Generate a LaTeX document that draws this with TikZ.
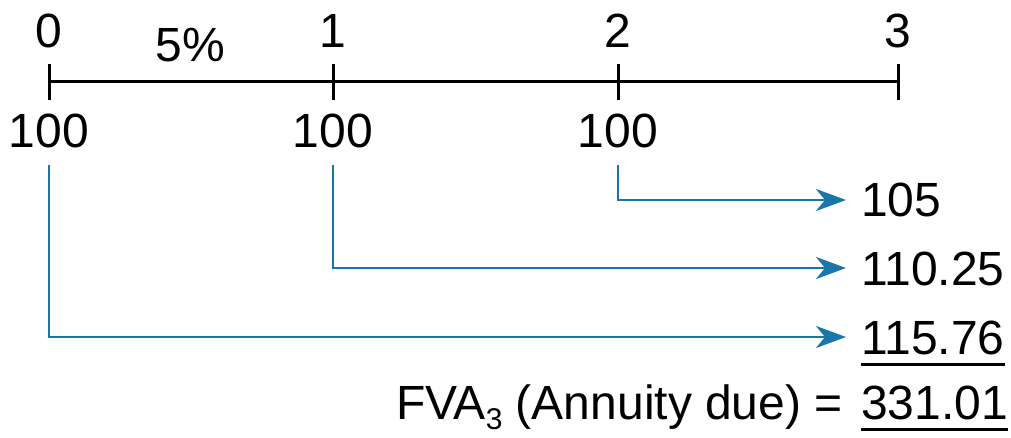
\documentclass[tikz,border=0pt]{standalone}
\usepackage{fontspec}
\setmainfont{Liberation Sans}
\usetikzlibrary{arrows.meta}
\definecolor{flowblue}{RGB}{24,118,170}
\begin{document}
\begin{tikzpicture}[x=1pt,y=-1pt,
  txt/.style={font=\fontsize{48}{52}\selectfont, inner sep=0pt, text height=34pt, text depth=0pt},
  tline/.style={line width=3pt, black},
  flow/.style={line width=2.8pt, flowblue, -{Stealth[length=30pt,width=22pt,inset=9pt]}, shorten <=17pt, shorten >=15pt},
  uline/.style={line width=3pt, black}]
\useasboundingbox (0,0) rectangle (1011,438);
% timeline
\coordinate (t0) at (49,82);
\coordinate (t1) at (333,82);
\coordinate (t2) at (618,82);
\coordinate (t3) at (898,82);
\draw[tline] (t0) -- (t3);
\foreach \t in {t0,t1,t2,t3}{
  \draw[tline] ([yshift=-18pt]\t) -- ([yshift=18pt]\t);
}
% period labels
\node[txt] (n0) at (49,31) {0};
\node[txt] (n1) at (333,31) {1};
\node[txt] (n2) at (618,31) {2};
\node[txt] (n3) at (898,31) {3};
\node[txt] (rate) at (190,45) {5\%};
% payments
\node[txt] (p0) at (49,131) {100};
\node[txt] (p1) at (333,131) {100};
\node[txt] (p2) at (618,131) {100};
% future values
\node[txt, anchor=west] (r2) at (861,200) {105};
\node[txt, anchor=west] (r1) at (861,268) {110.25};
\node[txt, anchor=west] (r0) at (861,337) {115.76};
% connectors
\draw[flow] (p2.south) |- (r2.west);
\draw[flow] (p1.south) |- (r1.west);
\draw[flow] (p0.south) |- (r0.west);
\draw[uline] ([yshift=-10pt]r0.south west) -- ([yshift=-10pt]r0.south east);
% total
\node[txt, anchor=base west] (tot) at (861,419) {331.01};
\draw[uline] ([yshift=-10pt]tot.south west) -- ([yshift=-10pt]tot.south east);
\node[txt, anchor=base east] (fva) at ([xshift=-18pt]tot.base west)
  {FVA\raisebox{-0.22em}{\fontsize{30}{31}\selectfont 3} (Annuity due) =};
\end{tikzpicture}
\end{document}
